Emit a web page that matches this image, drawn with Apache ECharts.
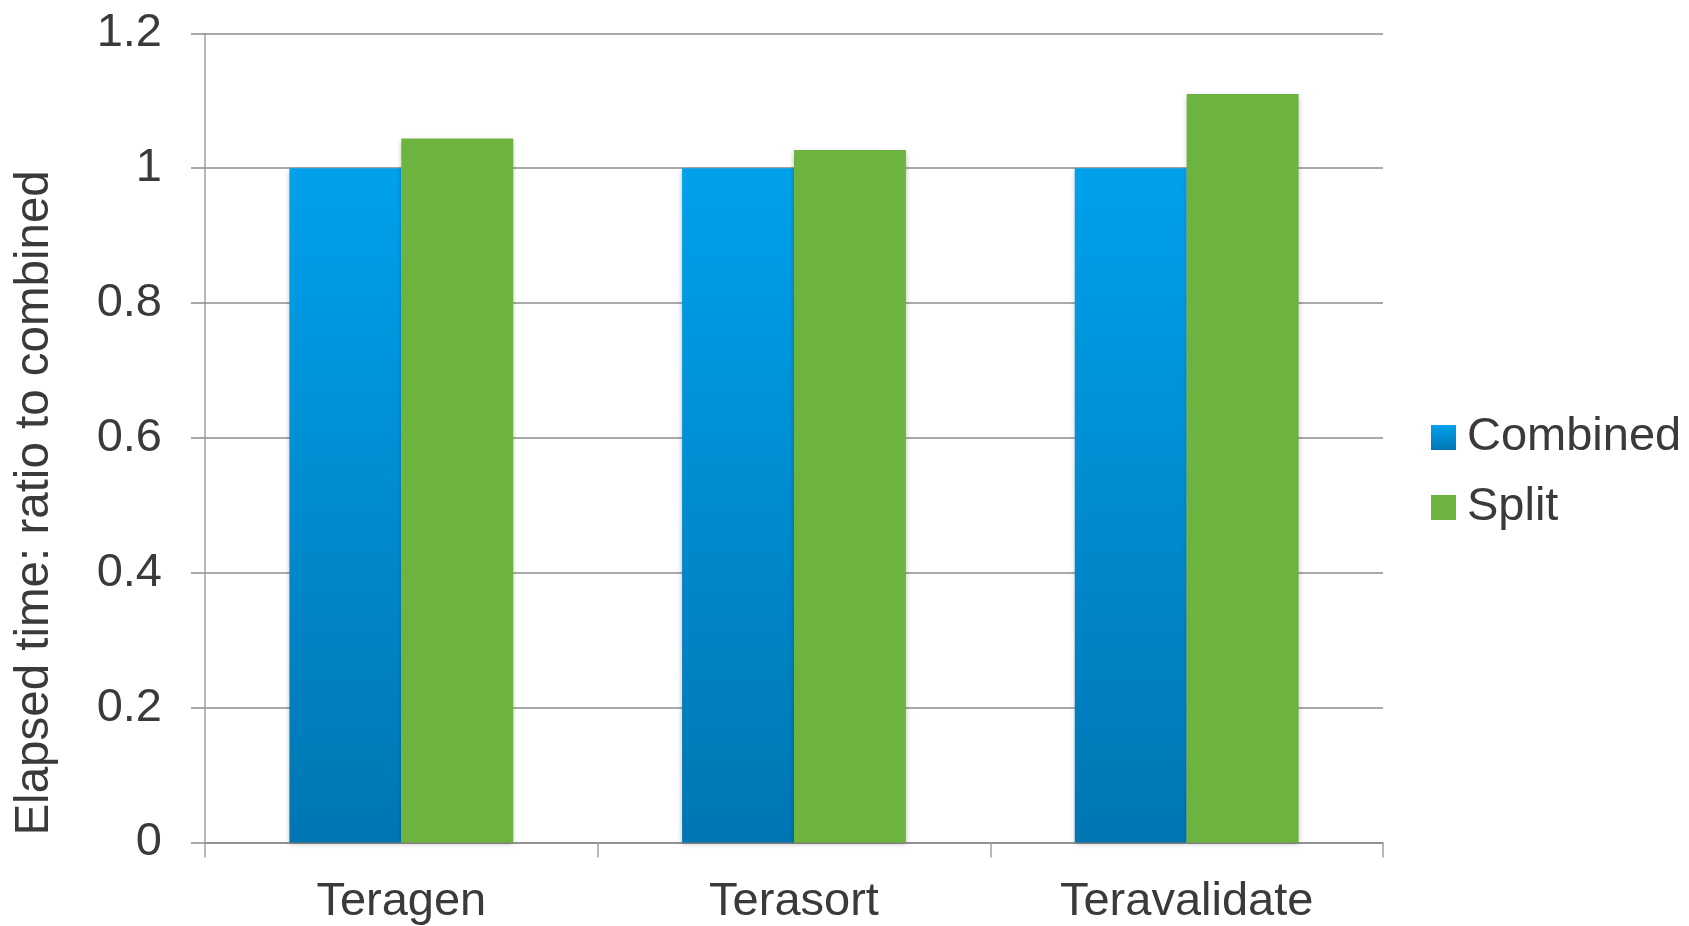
<!DOCTYPE html>
<html>
<head>
<meta charset="utf-8">
<script src="https://cdn.jsdelivr.net/npm/echarts@6/dist/echarts.min.js"></script>
<style>
  html, body { margin: 0; padding: 0; background: #ffffff; }
  #chart { width: 1689px; height: 926px; }
</style>
</head>
<body>
<div id="chart"></div>
<script>
// Benchmarks and elapsed-time ratios (relative to the combined setup)
const categories = ['Teragen', 'Terasort', 'Teravalidate'];
const combinedValues = [1, 1, 1];
const splitValues = [1.044, 1.027, 1.11];
const yTicks = { min: 0, max: 1.2, interval: 0.2 };

const FONT = '"Liberation Sans", Arial, sans-serif';
const TEXT_COLOR = '#3a3a3a';
const GRID_COLOR = '#8c8c8c';

const blueGradient = new echarts.graphic.LinearGradient(0, 0, 0, 1, [
  { offset: 0, color: '#00a1ec' },
  { offset: 1, color: '#0076b3' }
]);

const barShadow = {
  shadowColor: 'rgba(0,0,0,0.28)',
  shadowBlur: 5,
  shadowOffsetX: 0,
  shadowOffsetY: 2
};

const chart = echarts.init(document.getElementById('chart'), null, { renderer: 'canvas' });

chart.setOption({
  animation: false,
  backgroundColor: '#ffffff',
  textStyle: { fontFamily: FONT },
  grid: { left: 205, right: 306, top: 33.4, bottom: 83.6, containLabel: false },
  legend: {
    orient: 'vertical',
    left: 1431,
    top: 414,
    padding: 0,
    itemWidth: 25,
    itemHeight: 25,
    itemGap: 23,
    icon: 'rect',
    data: ['Combined', 'Split'],
    textStyle: {
      fontFamily: FONT,
      fontSize: 47,
      color: TEXT_COLOR,
      lineHeight: 46,
      padding: [0, 0, 0, 6]
    }
  },
  xAxis: {
    type: 'category',
    data: categories,
    axisLine: { show: true, lineStyle: { color: GRID_COLOR, width: 1.5 } },
    axisTick: { show: true, length: 15, lineStyle: { color: '#a0a0a0', width: 1.5 } },
    axisLabel: {
      fontFamily: FONT,
      fontSize: 47,
      color: TEXT_COLOR,
      margin: 36
    },
    splitLine: { show: false }
  },
  yAxis: {
    type: 'value',
    min: yTicks.min,
    max: yTicks.max,
    interval: yTicks.interval,
    name: 'Elapsed time: ratio to combined',
    nameLocation: 'middle',
    nameGap: 146,
    nameTextStyle: {
      fontFamily: FONT,
      fontSize: 47.5,
      color: TEXT_COLOR,
      padding: [0, 130, 0, 0]
    },
    axisLine: { show: true, lineStyle: { color: '#a0a0a0', width: 1.5 } },
    axisTick: { show: true, length: 14, lineStyle: { color: GRID_COLOR, width: 1.5 } },
    axisLabel: {
      fontFamily: FONT,
      fontSize: 47,
      color: TEXT_COLOR,
      margin: 43
    },
    splitLine: { show: true, lineStyle: { color: GRID_COLOR, width: 1.5 } }
  },
  series: [
    {
      name: 'Combined',
      type: 'bar',
      data: combinedValues,
      barGap: '0%',
      barCategoryGap: '43%',
      itemStyle: Object.assign({ color: blueGradient }, barShadow)
    },
    {
      name: 'Split',
      type: 'bar',
      data: splitValues,
      barGap: '0%',
      barCategoryGap: '43%',
      itemStyle: Object.assign({ color: '#6db33f' }, barShadow)
    }
  ]
});
</script>
</body>
</html>
